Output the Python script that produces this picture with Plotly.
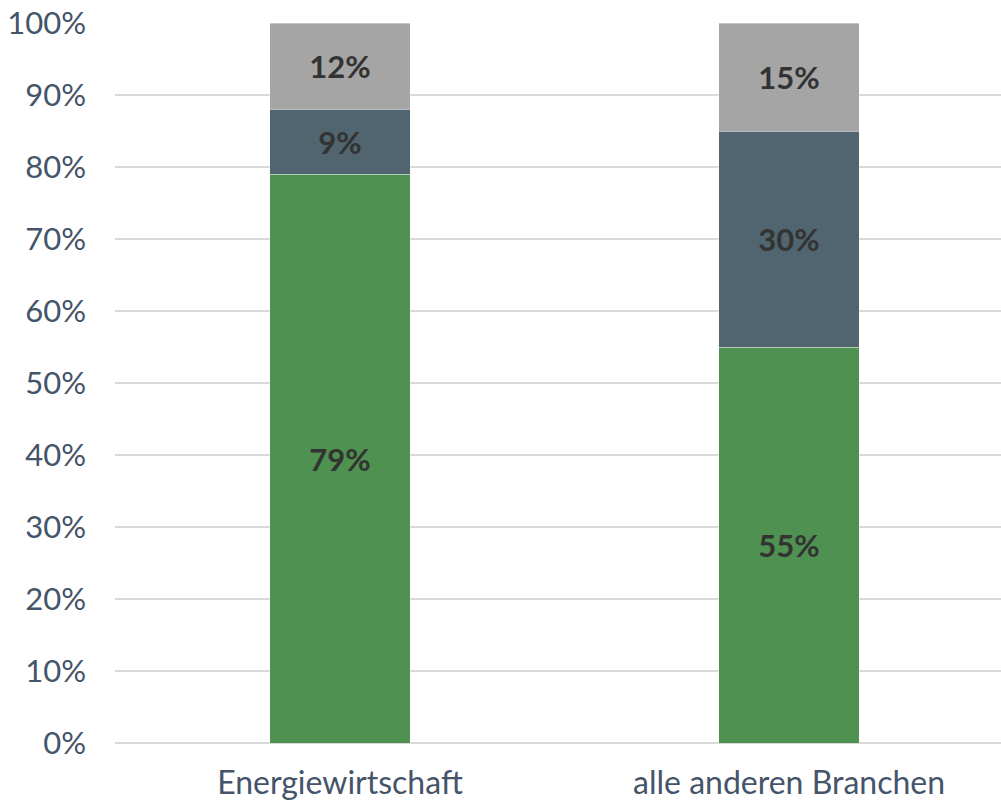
import plotly.graph_objects as go

categories = ["Energiewirtschaft", "alle anderen Branchen"]
series_names = ["A", "B", "C"]
green_vals = [79, 55]
slate_vals = [9, 30]
grey_vals = [12, 15]
tick_vals = [0, 10, 20, 30, 40, 50, 60, 70, 80, 90, 100]
tick_text = [f"{v}%" for v in tick_vals]

colors = ["#4E9150", "#516570", "#A5A5A5"]
FONT = "Lato, 'DejaVu Sans', sans-serif"

fig = go.Figure()
for name, vals, col in zip(series_names, [green_vals, slate_vals, grey_vals], colors):
    fig.add_trace(go.Bar(
        x=categories, y=vals, name=name,
        marker=dict(color=col, line=dict(color="rgba(255,255,255,0.35)", width=1)),
        text=[f"{v}%" for v in vals], textposition="inside",
        insidetextanchor="middle",
        textfont=dict(family=FONT, size=31, color="#333333", weight="bold"),
        width=0.312,
    ))

fig.update_layout(
    barmode="stack",
    width=1001, height=802,
    margin=dict(l=115, r=0, t=23, b=59),
    plot_bgcolor="white", paper_bgcolor="white",
    showlegend=False,
    uniformtext=dict(minsize=10, mode=False),
    xaxis=dict(
        range=[-0.501, 1.472], showgrid=False, zeroline=False,
        tickfont=dict(family=FONT, size=32, color="#44546A"),
        ticks="", ticklabelstandoff=18,
    ),
    yaxis=dict(
        range=[0, 100], tickvals=tick_vals, ticktext=tick_text,
        showgrid=True, gridcolor="#D9D9D9", gridwidth=2,
        zeroline=True, zerolinecolor="#D9D9D9", zerolinewidth=2,
        tickfont=dict(family=FONT, size=31, color="#44546A"),
        ticks="", ticklabelstandoff=28,
    ),
)

fig.write_html("out.html")
